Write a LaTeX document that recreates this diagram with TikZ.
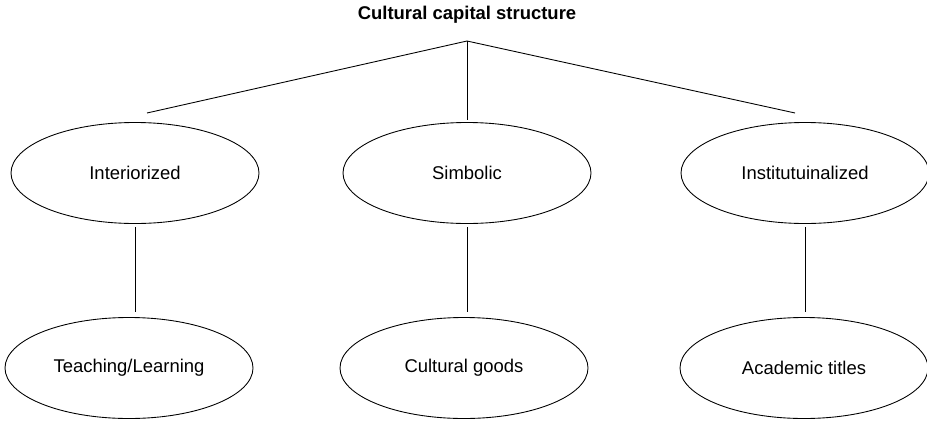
\documentclass[tikz,border=0pt]{standalone}
\usepackage{fontspec}
\setmainfont{Liberation Sans}
\usetikzlibrary{shapes.geometric}
\begin{document}
\begin{tikzpicture}[line width=0.5pt,
  oval/.style={draw, ellipse, minimum width=4.96cm, minimum height=2.02cm, inner sep=0pt, font=\fontsize{10.5}{12}\selectfont},
  link/.style={shorten <=1.7pt, shorten >=2.8pt}]

\useasboundingbox (0,0) rectangle (18.54,8.42);
\node[font=\fontsize{10.5}{12}\selectfont\bfseries] (title) at (9.34,8.12) {Cultural capital structure};
\coordinate (apex) at (9.34,7.60);
\coordinate (lend) at (2.94,6.16);
\coordinate (mend) at (9.34,6.02);
\coordinate (rend) at (15.90,6.16);
\node[oval] (inter) at (2.70,4.96) {Interiorized};
\node[oval] (simb) at (9.34,4.96) {Simbolic};
\node[oval] (inst) at (16.10,4.96) {Institutuinalized};
\node[oval] (teach) at (2.58,1.06) {Teaching/Learning};
\node[oval] (goods) at (9.28,1.06) {Cultural goods};
\node[oval] (titles) at (16.08,1.06) {Academic titles};
\draw (lend) -- (apex) -- (rend);
\draw (apex) -- (mend);
\draw[link] (inter.south) -- (inter.south |- teach.north);
\draw[link] (simb.south) -- (simb.south |- goods.north);
\draw[link] (inst.south) -- (inst.south |- titles.north);
\end{tikzpicture}
\end{document}
